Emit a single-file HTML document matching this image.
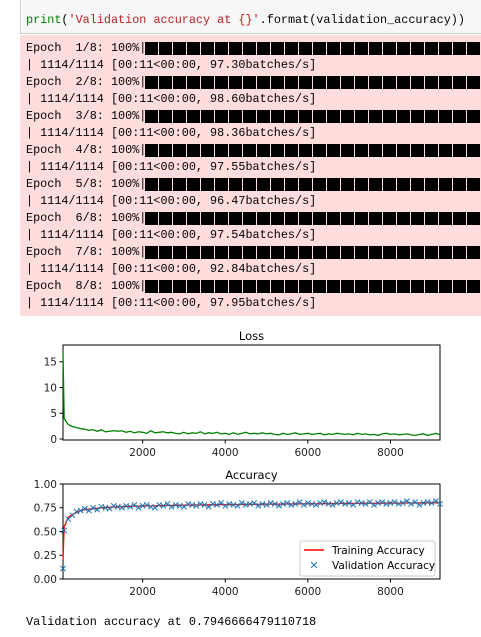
<!DOCTYPE html>
<html><head><meta charset="utf-8">
<style>
html,body{margin:0;padding:0;background:#fff;width:481px;height:637px;overflow:hidden;position:relative}
.mono{font-family:"Liberation Mono","Noto Sans CJK SC",monospace;font-size:11.8px;white-space:pre;position:absolute;left:26px}
#code{position:absolute;left:20px;top:-1px;width:470px;height:33px;background:#f7f7f7;border:1px solid #cfcfcf}
#out{position:absolute;left:20px;top:35px;width:470px;height:281px;background:#ffdddd}
.bar{position:absolute;left:145px;width:340px;height:13px;background:repeating-linear-gradient(90deg,#000 0 13px,#ffdddd 13px 14px)}
</style></head><body>
<div id="code"></div>
<div class="mono" style="top:13px;color:#000"><span style="color:#008000">print</span>(<span style="color:#ba2121">'Validation accuracy at {}'</span>.format(validation_accuracy))</div>
<div id="out"></div>
<div id="lines"></div>
<svg id="chart" width="481" height="637" style="position:absolute;left:0;top:0" font-family="DejaVu Sans, Liberation Sans, sans-serif"></svg>
<div class="mono" style="top:615px">Validation accuracy at 0.7946666479110718</div>
<script>
const epochs=[1,2,3,4,5,6,7,8];
const speeds=["97.30","98.60","98.36","97.55","96.47","97.54","92.84","97.95"];
const lossX0=72, stepSize=100;
const lossVals=[17,4.0,2.8,2.4,2.2,2.0,1.9,1.7,1.8,1.5,1.8,1.4,1.5,1.6,1.5,1.6,1.3,1.5,1.2,1.4,1.3,1.1,1.6,1.2,1.3,1.4,1.2,1.3,1.1,1.0,1.3,1.0,1.2,1.1,1.4,1.0,1.2,1.1,1.3,1.0,1.1,0.9,1.2,0.9,1.1,1.3,1.0,1.1,1.0,1.2,1.0,1.1,0.9,0.8,1.1,0.9,1.0,1.2,0.9,1.0,1.1,0.9,1.0,1.1,0.8,1.0,0.9,1.1,1.0,0.9,1.0,0.8,1.1,0.9,1.0,0.8,0.9,0.7,1.0,1.1,0.9,1.0,0.8,0.9,1.0,0.8,0.7,0.9,1.0,0.7,0.9,1.1,0.8];
const trainAcc=[0.2,.55,.65,.68,.70,.72,.73,.735,.74,.745,.75,.752,.755,.758,.76,.762,.763,.765,.766,.767,.768,.77,.77,.771,.772,.773,.774,.775,.775,.776,.777,.778,.778,.779,.78,.78,.781,.781,.782,.782,.783,.783,.784,.784,.785,.785,.786,.786,.787,.787,.788,.788,.788,.789,.789,.79,.79,.79,.791,.791,.792,.792,.792,.793,.793,.794,.794,.794,.795,.795,.795,.796,.796,.796,.797,.797,.797,.798,.798,.798,.799,.799,.799,.80,.80,.80,.80,.801,.801,.801,.802,.802,.802];
const valAcc=[0.11,.51,.63,.67,.71,.72,.74,.72,.75,.73,.76,.75,.74,.77,.76,.75,.77,.76,.78,.75,.77,.78,.76,.75,.78,.77,.79,.76,.78,.77,.76,.79,.78,.77,.79,.78,.76,.79,.78,.80,.77,.79,.78,.77,.80,.78,.79,.80,.77,.79,.78,.80,.79,.77,.79,.80,.78,.79,.81,.78,.80,.79,.78,.80,.81,.79,.78,.80,.81,.79,.80,.78,.81,.80,.79,.81,.78,.80,.81,.79,.80,.81,.79,.80,.82,.79,.81,.78,.80,.81,.80,.82,.79];
const xTicks=[2000,4000,6000,8000];
const lossTicks=[0,5,10,15];
const accTicks=[0,0.25,0.5,0.75,1.0];
const accTickLabels=["0.00","0.25","0.50","0.75","1.00"];

const L=document.getElementById('lines');
epochs.forEach((e,i)=>{
  const y=41+i*34;
  const a=document.createElement('div');a.className='mono';a.style.top=y+'px';
  a.textContent='Epoch  '+e+'/8: 100%|';
  
  
  L.appendChild(a);
  const b=document.createElement('div');b.className='bar';b.style.top=(y+1)+'px';
  
  
  L.appendChild(b);
  const c=document.createElement('div');c.className='mono';c.style.top=(y+17)+'px';
  c.textContent='| 1114/1114 [00:11<00:00, '+speeds[i]+'batches/s]';
  
  
  L.appendChild(c);
});

const S=document.getElementById('chart');
const NS='http://www.w3.org/2000/svg';
function mk(t,at,txt){const e=document.createElementNS(NS,t);for(const k in at)e.setAttribute(k,at[k]);if(txt!==undefined)e.textContent=txt;S.appendChild(e);return e;}
const xdom=[72,9200], AX0=63, AX1=440;
const xs=v=>AX0+(v-xdom[0])/(xdom[1]-xdom[0])*(AX1-AX0);
const xOf=i=>i===0?lossX0:i*stepSize;

function axes(top,bot,title,yt,ylab,ys,name){
  const f=mk('rect',{x:AX0,y:top,width:AX1-AX0,height:bot-top,fill:'none',stroke:'#000','stroke-width':1});
  
  const t=mk('text',{x:(AX0+AX1)/2,y:top-5,'font-size':11.5,'text-anchor':'middle'},title);
  
  yt.forEach((v,i)=>{const y=ys(v);mk('line',{x1:AX0-3.5,x2:AX0,y1:y,y2:y,stroke:'#000'});
    const l=mk('text',{x:AX0-6,y:y+3.8,'font-size':10.5,'text-anchor':'end',fill:'#222'},ylab[i]);
    });
  xTicks.forEach(v=>{const x=xs(v);mk('line',{x1:x,x2:x,y1:bot,y2:bot+3.5,stroke:'#000'});
    const l=mk('text',{x:x,y:bot+16,'font-size':10.5,'text-anchor':'middle',fill:'#222'},String(v));
    });
}
const LT=345,LB=440; const ysL=v=>439-v*5.15;
axes(LT,LB,'Loss',lossTicks,lossTicks.map(String),ysL,'loss');
const lp=mk('polyline',{points:lossVals.map((v,i)=>xs(xOf(i))+','+ysL(v)).join(' '),fill:'none',stroke:'#008000','stroke-width':1.3});

const AT=484,AB=579; const ysA=v=>AB-v*(AB-AT);
axes(AT,AB,'Accuracy',accTicks,accTickLabels,ysA,'accuracy');
const tp=mk('polyline',{points:trainAcc.map((v,i)=>xs(xOf(i))+','+ysA(v)).join(' '),fill:'none',stroke:'#ff0000','stroke-width':1.3});

valAcc.forEach((v,i)=>{const x=xs(xOf(i)),y=ysA(v),r=2.6;
  const m=mk('path',{d:`M${x-r},${y-r}L${x+r},${y+r}M${x-r},${y+r}L${x+r},${y-r}`,stroke:'#1f77b4','stroke-width':1});
  });
const lg=mk('rect',{x:300,y:541,width:135,height:35,rx:2,fill:'#fff','fill-opacity':0.85,stroke:'#ccc'});

mk('line',{x1:304,x2:324,y1:550,y2:550,stroke:'#ff0000','stroke-width':1.5});
const l1=mk('text',{x:332,y:554,'font-size':10.5},'Training Accuracy');

mk('path',{d:'M311,562L317,568M311,568L317,562',stroke:'#1f77b4','stroke-width':1});
const l2=mk('text',{x:332,y:569,'font-size':10.5},'Validation Accuracy');

</script>
</body></html>
